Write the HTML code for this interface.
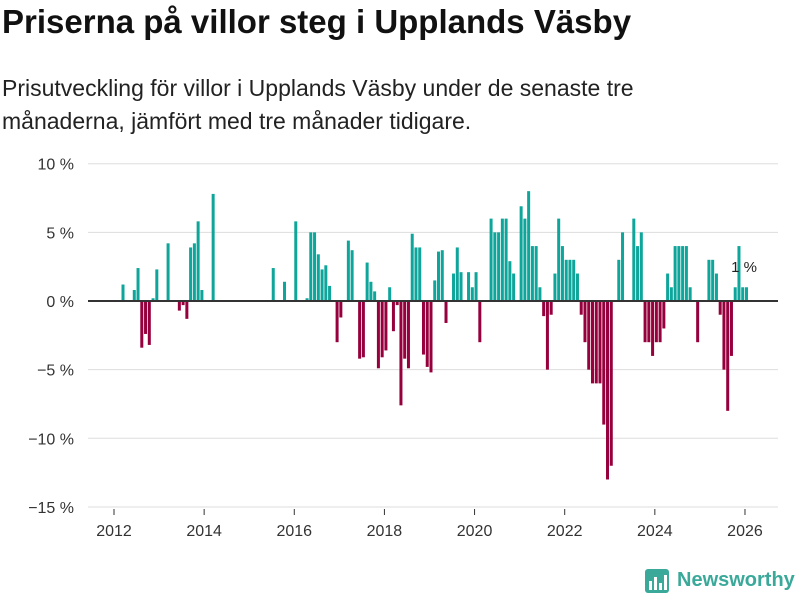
<!DOCTYPE html>
<html><head><meta charset="utf-8"><style>
body{margin:0;width:800px;height:600px;background:#fff;font-family:"Liberation Sans",sans-serif;overflow:hidden}
#title{position:absolute;left:2px;top:3px;font-size:33px;font-weight:bold;color:#111;letter-spacing:0px}
#sub{position:absolute;left:2px;top:72px;font-size:23px;line-height:33px;color:#222;width:680px}
svg{position:absolute;left:0;top:0}
</style></head><body>
<div id="title">Priserna på villor steg i Upplands Väsby</div>
<div id="sub">Prisutveckling för villor i Upplands Väsby under de senaste tre månaderna, jämfört med tre månader tidigare.</div>
<svg id="chart" width="800" height="600"></svg>
<script>
const monthIndex=[2,5,6,7,8,9,10,11,14,17,18,19,20,21,22,23,26,42,45,48,51,52,53,54,55,56,57,59,60,62,63,65,66,67,68,69,70,71,72,73,74,75,76,77,78,79,80,81,82,83,84,85,86,87,88,90,91,92,94,95,96,97,100,101,102,103,104,105,106,108,109,110,111,112,113,114,115,116,117,118,119,120,121,122,123,124,125,126,127,128,129,130,131,132,134,135,138,139,140,141,142,143,144,145,146,147,148,149,150,151,152,153,155,158,159,160,161,162,163,164,165,166,167,168];
const values=[1.2,0.8,2.4,-3.4,-2.4,-3.2,0.2,2.3,4.2,-0.7,-0.3,-1.3,3.9,4.2,5.8,0.8,7.8,2.4,1.4,5.8,0.2,5.0,5.0,3.4,2.3,2.6,1.1,-3.0,-1.2,4.4,3.7,-4.2,-4.1,2.8,1.4,0.7,-4.9,-4.1,-3.6,1.0,-2.2,-0.3,-7.6,-4.2,-4.9,4.9,3.9,3.9,-3.9,-4.8,-5.2,1.5,3.6,3.7,-1.6,2.0,3.9,2.1,2.1,1.0,2.1,-3.0,6.0,5.0,5.0,6.0,6.0,2.9,2.0,6.9,6.0,8.0,4.0,4.0,1.0,-1.1,-5.0,-1.0,2.0,6.0,4.0,3.0,3.0,3.0,2.0,-1.0,-3.0,-5.0,-6.0,-6.0,-6.0,-9.0,-13.0,-12.0,3.0,5.0,6.0,4.0,5.0,-3.0,-3.0,-4.0,-3.0,-3.0,-2.0,2.0,1.0,4.0,4.0,4.0,4.0,1.0,-3.0,3.0,3.0,2.0,-1.0,-5.0,-8.0,-4.0,1.0,4.0,1.0,1.0];
const yTicks=[10,5,0,-5,-10,-15];
const yTickLabels=["10 %","5 %","0 %","−5 %","−10 %","−15 %"];
const xTicks=[2012,2014,2016,2018,2020,2022,2024,2026];
const annotation="1 %";

const svg=document.getElementById('chart');
const NS='http://www.w3.org/2000/svg';
const y=v=>301-v*13.73;
const x=yr=>114+(yr-2012)*45.07;
const xm=m=>x(2012+m/12);
function mk(t,a){const e=document.createElementNS(NS,t);for(const k in a)e.setAttribute(k,a[k]);svg.appendChild(e);return e;}
yTicks.forEach((t,i)=>{
  if(t!==0){const l=mk('line',{x1:88,x2:778,y1:y(t),y2:y(t),stroke:'#ddd','stroke-width':1});
  
  }
  const tx=mk('text',{x:74,y:y(t)+6,'text-anchor':'end','font-size':16,fill:'#333','font-family':'Liberation Sans, sans-serif'});
  tx.textContent=yTickLabels[i];
  
  
});
xTicks.forEach(t=>{
  const l=mk('line',{x1:x(t),x2:x(t),y1:509,y2:515,stroke:'#333'});
  
  
  const tx=mk('text',{x:x(t),y:536,'text-anchor':'middle','font-size':16,fill:'#333','font-family':'Liberation Sans, sans-serif'});
  tx.textContent=t;
  
  
});
monthIndex.forEach((m,i)=>{
  const v=values[i];
  const r=mk('rect',{x:xm(m),width:3,y:Math.min(y(v),y(0)),height:Math.abs(y(v)-y(0)),fill:v>=0?'#0ea59a':'#96003c'});
  
  
});
const z=mk('line',{x1:88,x2:778,y1:y(0),y2:y(0),stroke:'#333','stroke-width':2});


const an=mk('text',{x:744,y:272,'text-anchor':'middle','font-size':15,fill:'#222','font-family':'Liberation Sans, sans-serif'});
an.textContent=annotation;


</script>
<div style="position:absolute;left:645px;top:567px;display:flex;align-items:center">
 <svg width="24" height="26" style="position:static"><rect x="0" y="2" width="24" height="24" rx="3" fill="#3aa99a"/><rect x="4" y="14" width="3" height="9" fill="#fff"/><rect x="9" y="10" width="3" height="13" fill="#fff"/><rect x="14" y="16" width="3" height="7" fill="#fff"/><rect x="19" y="8" width="3" height="15" fill="#fff"/></svg>
 <span style="margin-left:8px;font-size:20px;font-weight:bold;color:#3aa99a">Newsworthy</span>
</div>
</body></html>
